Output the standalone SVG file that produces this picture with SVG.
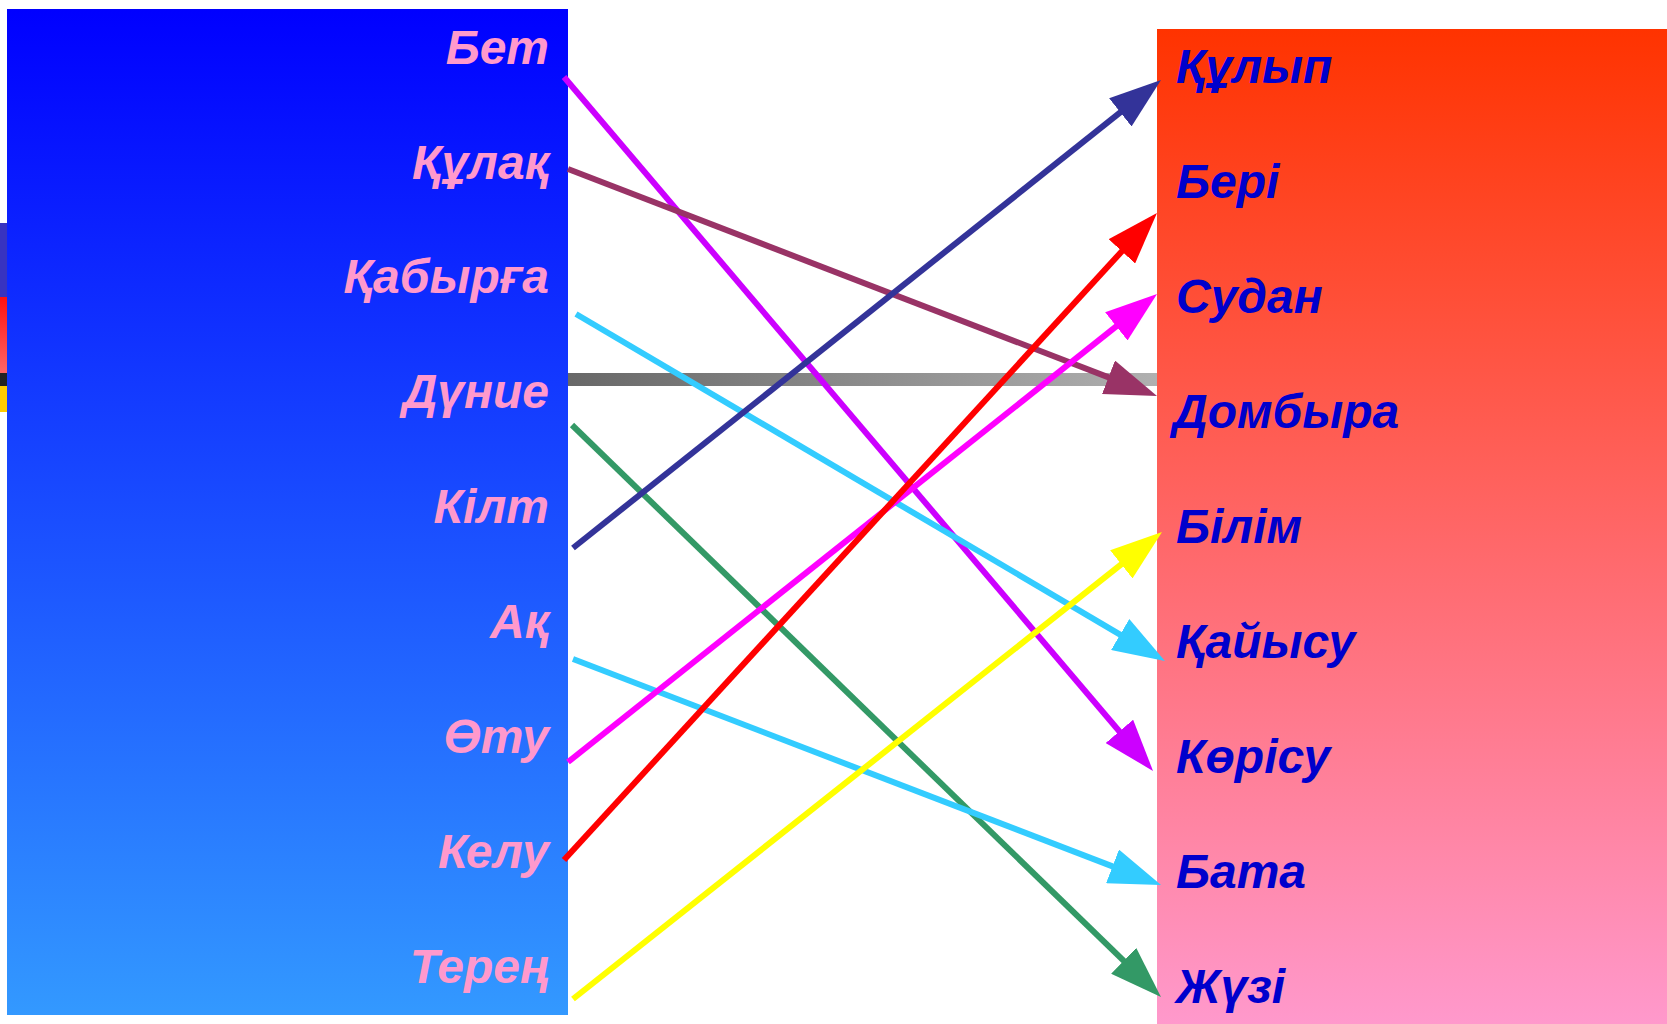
<svg xmlns="http://www.w3.org/2000/svg" width="1667" height="1024" viewBox="0 0 1667 1024">
<defs>
<linearGradient id="gL" x1="0" y1="0" x2="0" y2="1"><stop offset="0" stop-color="#0000ff"/><stop offset="1" stop-color="#3399ff"/></linearGradient>
<linearGradient id="gR" x1="0" y1="0" x2="0" y2="1"><stop offset="0" stop-color="#ff3300"/><stop offset="1" stop-color="#ff99cc"/></linearGradient>
<linearGradient id="gBar" gradientUnits="userSpaceOnUse" x1="0" y1="0" x2="1157" y2="0"><stop offset="0" stop-color="#222222"/><stop offset="1" stop-color="#b0b0b0"/></linearGradient>
<linearGradient id="gRed" x1="0" y1="0" x2="0" y2="1"><stop offset="0" stop-color="#ff1111"/><stop offset="1" stop-color="#ff6666"/></linearGradient>
<marker id="aPurple" markerUnits="userSpaceOnUse" markerWidth="52" markerHeight="36" refX="30" refY="18" orient="auto"><path d="M0,0 L52,18 L0,36 z" fill="#cc00ff"/></marker>
<marker id="aMaroon" markerUnits="userSpaceOnUse" markerWidth="52" markerHeight="36" refX="30" refY="18" orient="auto"><path d="M0,0 L52,18 L0,36 z" fill="#993366"/></marker>
<marker id="aCyan" markerUnits="userSpaceOnUse" markerWidth="52" markerHeight="36" refX="30" refY="18" orient="auto"><path d="M0,0 L52,18 L0,36 z" fill="#33ccff"/></marker>
<marker id="aGreen" markerUnits="userSpaceOnUse" markerWidth="52" markerHeight="36" refX="30" refY="18" orient="auto"><path d="M0,0 L52,18 L0,36 z" fill="#339966"/></marker>
<marker id="aNavy" markerUnits="userSpaceOnUse" markerWidth="52" markerHeight="36" refX="30" refY="18" orient="auto"><path d="M0,0 L52,18 L0,36 z" fill="#333399"/></marker>
<marker id="aMagenta" markerUnits="userSpaceOnUse" markerWidth="52" markerHeight="36" refX="30" refY="18" orient="auto"><path d="M0,0 L52,18 L0,36 z" fill="#ff00ff"/></marker>
<marker id="aRed" markerUnits="userSpaceOnUse" markerWidth="52" markerHeight="36" refX="30" refY="18" orient="auto"><path d="M0,0 L52,18 L0,36 z" fill="#ff0000"/></marker>
<marker id="aYellow" markerUnits="userSpaceOnUse" markerWidth="52" markerHeight="36" refX="30" refY="18" orient="auto"><path d="M0,0 L52,18 L0,36 z" fill="#ffff00"/></marker>
</defs>
<style>
text { font-family: "Liberation Sans", Arial, sans-serif; font-weight: bold; font-style: italic; font-size: 48px; }
.lt { fill: #ff99cc; text-anchor: end; }
.rt { fill: #0000cc; }
.c { fill: none; stroke-width: 6; }
</style>
<rect width="1667" height="1024" fill="#ffffff"/>
<g id="decor">
<rect x="0" y="223" width="8" height="74" fill="#3833c0"/>
<rect x="0" y="297" width="8" height="76" fill="url(#gRed)"/>
<rect x="0" y="386" width="8" height="26" fill="#ffcc00"/>
<rect x="0" y="373" width="1157" height="13" fill="url(#gBar)"/>
</g>
<g id="left">
<rect x="7" y="9" width="561" height="1006" fill="url(#gL)"/>
<text class="lt" x="549" y="64">Бет</text>
<text class="lt" x="549" y="179">Құлақ</text>
<text class="lt" x="549" y="293">Қабырға</text>
<text class="lt" x="549" y="408">Дүние</text>
<text class="lt" x="549" y="523">Кілт</text>
<text class="lt" x="549" y="638">Ақ</text>
<text class="lt" x="549" y="753">Өту</text>
<text class="lt" x="549" y="868">Келу</text>
<text class="lt" x="549" y="983">Терең</text>
</g>
<g id="right">
<rect x="1157" y="29" width="510" height="995" fill="url(#gR)"/>
<text class="rt" x="1176" y="83">Құлып</text>
<text class="rt" x="1176" y="198">Бері</text>
<text class="rt" x="1176" y="313">Судан</text>
<text class="rt" x="1173" y="428">Домбыра</text>
<text class="rt" x="1176" y="543">Білім</text>
<text class="rt" x="1176" y="658">Қайысу</text>
<text class="rt" x="1176" y="773">Көрісу</text>
<text class="rt" x="1176" y="888">Бата</text>
<text class="rt" x="1176" y="1003">Жүзі</text>
</g>
<g id="connectors">
<line class="c" x1="564" y1="77" x2="1138.8" y2="754.2" stroke="#cc00ff" marker-end="url(#aPurple)"/>
<line class="c" x1="568" y1="169" x2="1136.5" y2="388.1" stroke="#993366" marker-end="url(#aMaroon)"/>
<line class="c" x1="576" y1="314" x2="1146" y2="649.8" stroke="#33ccff" marker-end="url(#aCyan)"/>
<line class="c" x1="572" y1="425" x2="1145.2" y2="981.7" stroke="#339966" marker-end="url(#aGreen)"/>
<line class="c" x1="573" y1="548" x2="1143.8" y2="93.7" stroke="#333399" marker-end="url(#aNavy)"/>
<line class="c" x1="573" y1="659" x2="1140.5" y2="877.1" stroke="#33ccff" marker-end="url(#aCyan)"/>
<line class="c" x1="568" y1="762" x2="1139.8" y2="307.7" stroke="#ff00ff" marker-end="url(#aMagenta)"/>
<line class="c" x1="564" y1="860" x2="1142.1" y2="229.2" stroke="#ff0000" marker-end="url(#aRed)"/>
<line class="c" x1="573" y1="999" x2="1144.8" y2="545.7" stroke="#ffff00" marker-end="url(#aYellow)"/>
</g>
</svg>
